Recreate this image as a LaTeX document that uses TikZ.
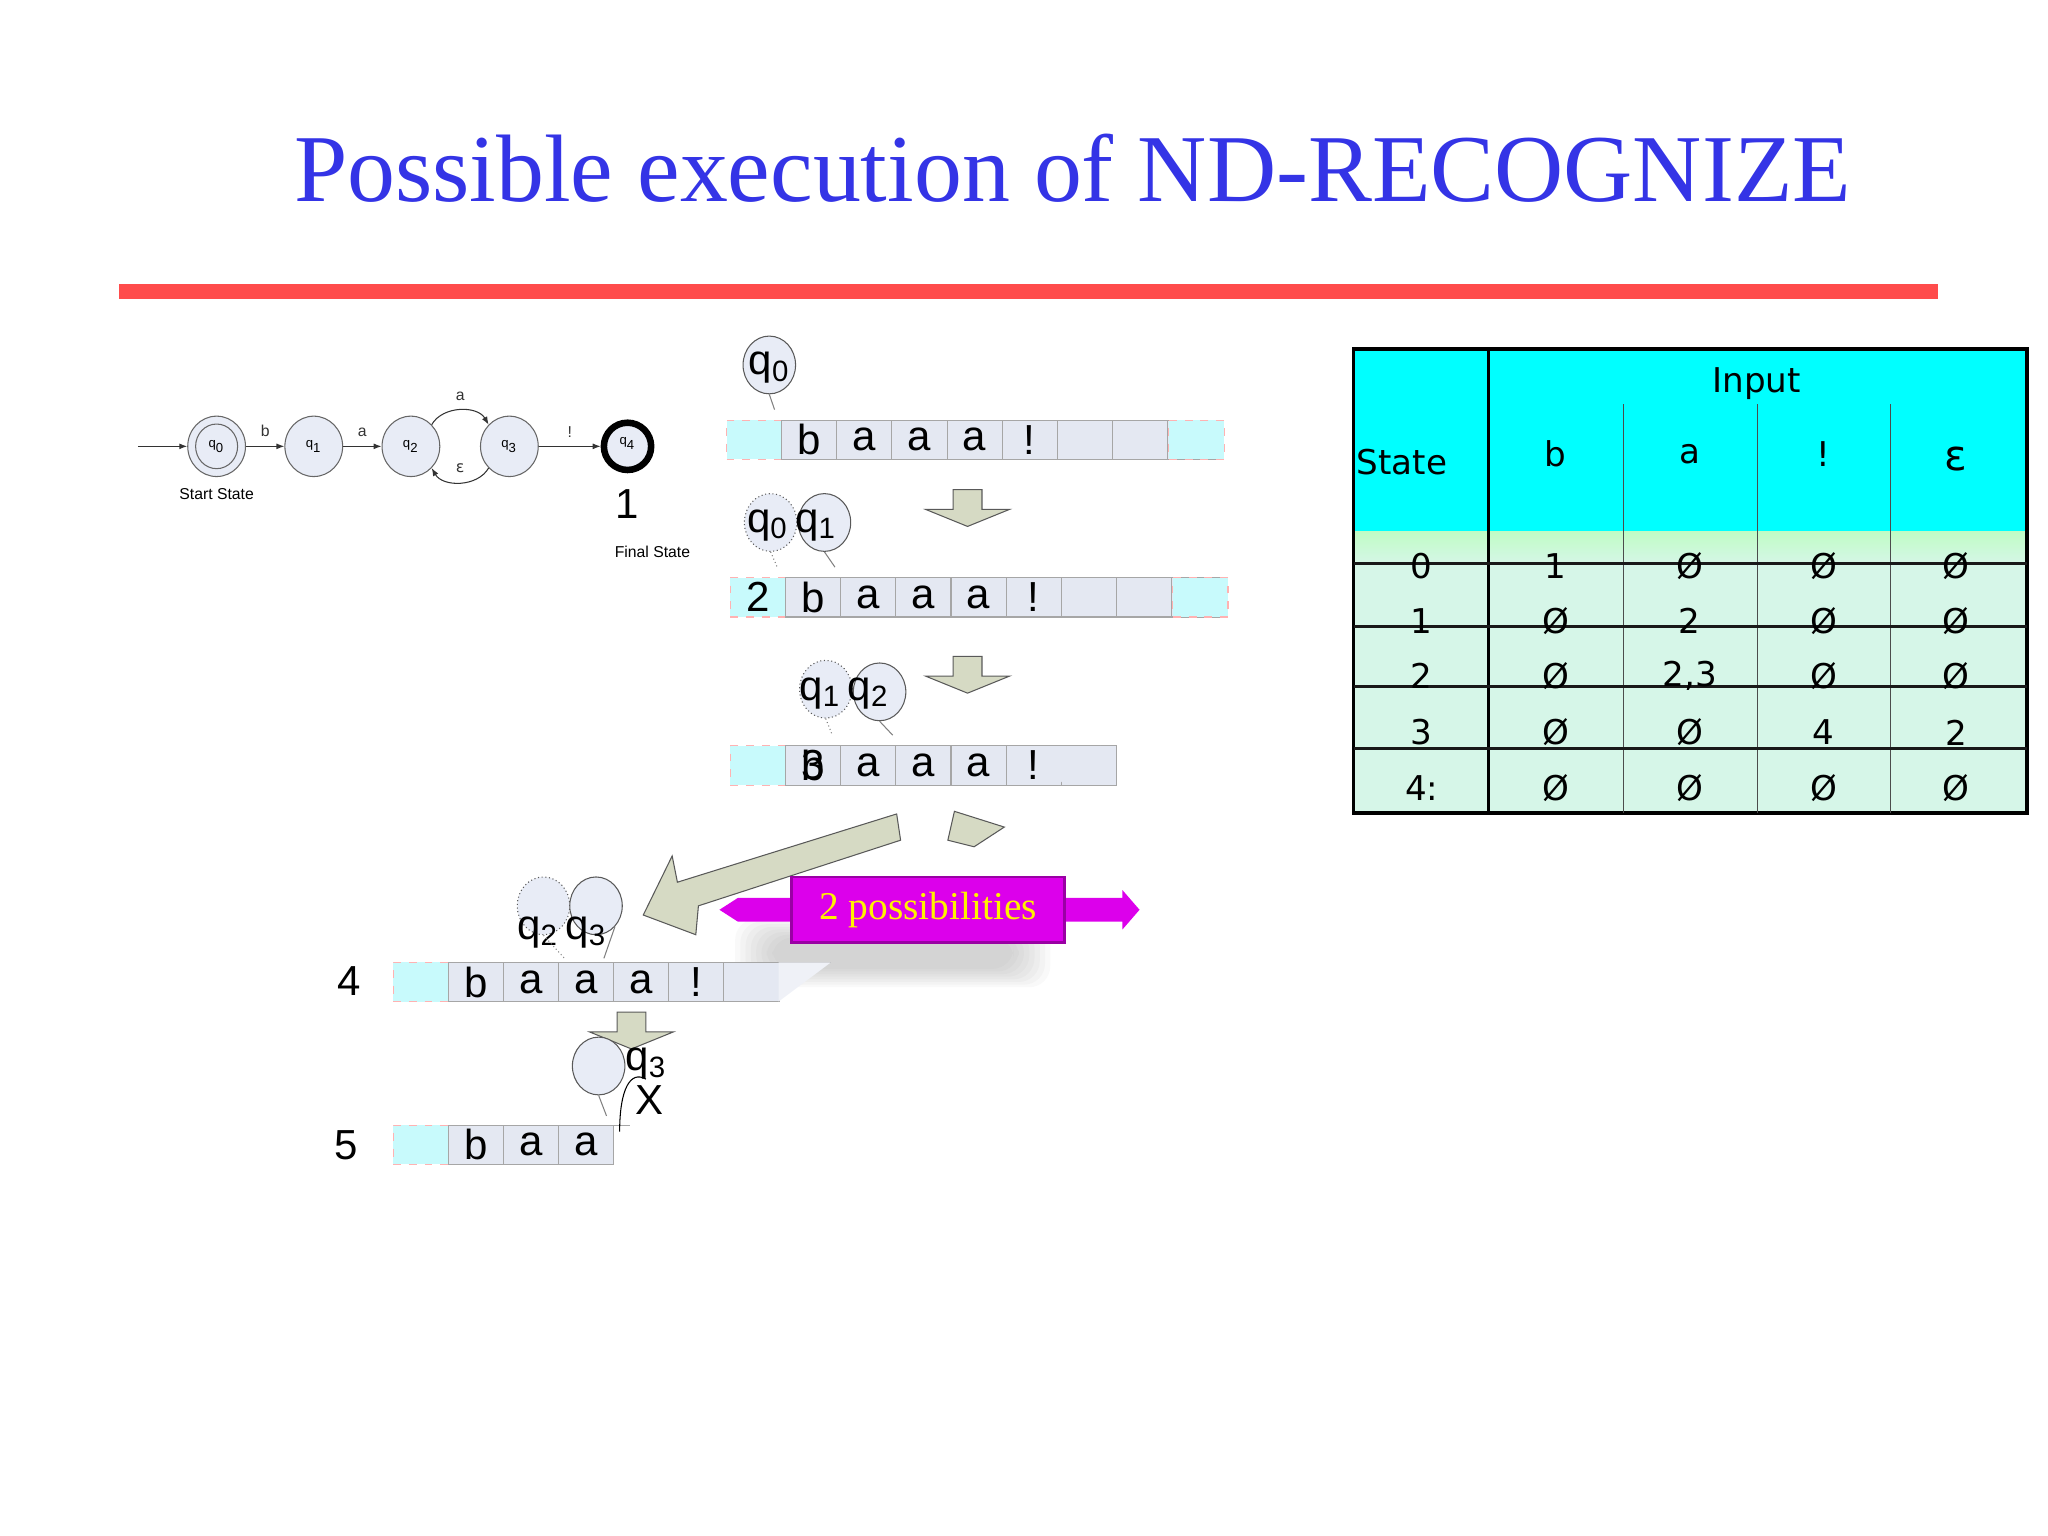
\documentclass[tikz,border=0pt]{standalone}
\usepackage{fontspec}
\setmainfont{Liberation Serif}
\newfontfamily\arial{Liberation Sans}
\newfontfamily\verd{DejaVu Sans}
\usetikzlibrary{arrows.meta,shapes.geometric}
\definecolor{bub}{RGB}{232,236,246}
\definecolor{cell}{RGB}{228,232,242}
\definecolor{cy}{RGB}{200,250,252}
\definecolor{tit}{RGB}{52,52,230}
\definecolor{arr}{RGB}{214,218,196}
\definecolor{mint}{RGB}{214,246,232}
\definecolor{mag}{RGB}{220,0,235}
\definecolor{aqua}{RGB}{0,255,255}
\tikzset{
 st/.style={draw=gray!80!black,fill=bub,ellipse,minimum width=22,minimum height=23,inner sep=0pt,font=\arial\fontsize{5}{6}\selectfont},
 bubble/.style={draw=gray!70!black,fill=bub,ellipse,minimum width=20,minimum height=22,inner sep=0pt},
 dbubble/.style={bubble,densely dotted},
 tcell/.style={draw=gray!70,fill=cell,minimum width=21,minimum height=15,inner sep=0pt,anchor=west,font=\arial\fontsize{16}{16}\selectfont},
 ccell/.style={draw=red!30,dashed,fill=cy,minimum width=21,minimum height=15,inner sep=0pt,anchor=west,font=\arial\fontsize{16}{16}\selectfont},
 lab/.style={font=\arial\fontsize{6}{7}\selectfont},
 big/.style={font=\arial\fontsize{16}{16}\selectfont},
 tx/.style={font=\verd\fontsize{13}{13}\selectfont},
 arrshape/.style={draw=gray!70!black,fill=arr}
}
\newcommand\tape[4]{% name, x, y, number of white cells
 \node[ccell] (#1c0) at (#2,#3) {};
 \foreach \i in {1,...,#4}{\node[tcell] (#1c\i) at ({#2+42*\i},#3) {};}
}
\newcommand\blockdown[2]{% x, top y
 \draw[arrshape] ({#1-11},#2) -- ({#1+11},#2) -- ({#1+11},{#2+15}) -- ({#1+32},{#2+15}) -- (#1,{#2+28}) -- ({#1-32},{#2+15}) -- ({#1-11},{#2+15}) -- cycle;
}
\begin{document}
\begin{tikzpicture}[x=0.5pt,y=-0.5pt]
\useasboundingbox (0,0) rectangle (1560,1170);
\node[text=tit,font=\fontsize{36.5}{36.5}\selectfont] (title) at (817,128) {Possible execution of ND-RECOGNIZE};
\fill[red!70!white] (91,216) rectangle (1476,228);
% FSA
\node[st] (q0) at (165,340) {};
\node[draw=gray!80!black,ellipse,minimum width=16,minimum height=17,inner sep=0pt,font=\arial\fontsize{5}{6}\selectfont] (q0i) at (165,340) {q\textsubscript{0}};
\node[st] (q1) at (239,340) {q\textsubscript{1}};
\node[st] (q2) at (313,340) {q\textsubscript{2}};
\node[st] (q3) at (388,340) {q\textsubscript{3}};
\node[draw=black,line width=2.5pt,fill=bub,circle,minimum size=18,inner sep=0pt,font=\arial\fontsize{5}{6}\selectfont] (q4) at (478,340) {\raisebox{4pt}{q\textsubscript{4}}};
\coordinate (in) at (105,340);
\draw[-{Latex[length=3pt]},gray!40!black] (in) -- (q0);
\draw[-{Latex[length=3pt]},gray!40!black] (q0) -- node[lab,above]{b} (q1);
\draw[-{Latex[length=3pt]},gray!40!black] (q1) -- node[lab,above]{a} (q2);
\draw[-{Latex[length=3pt]},gray!40!black] (q3) -- node[lab,above]{!} (q4);
\draw[-{Latex[length=3pt]},gray!40!black] (q2.north east) to[out=60,in=120] node[lab,above]{a} (q3.north west);
\draw[-{Latex[length=3pt]},gray!40!black] (q3.south west) to[out=240,in=300] node[font=\verd\fontsize{6}{7}\selectfont,above]{ε} (q2.south east);
\node[lab] (ss) at (165,376) {Start State};
\node[lab] (fs) at (497,420) {Final State};
\node[big] (one) at (478,384) {1};
% tape 1
\tape{a}{553}{335}{8}
\node[ccell] (ac9) at (890,335) {};
\foreach \i/\l in {1/b,2/a,3/a,4/a,5/!}{\node[big] (al\i) at (ac\i) {\l};}
\node[bubble] (b0) at (586,278) {};
\node[big] (t0) at (586,280) {q\textsubscript{0}};
\draw[gray] (b0.south) -- (590,312);
\blockdown{737}{373}
% tape 2
\tape{b}{556}{455}{8}
\node[ccell] (bc9) at (893,455) {};
\node[big] (bn) at (bc0) {2};
\foreach \i/\l in {1/b,2/a,3/a,4/a,5/!}{\node[big] (bl\i) at (bc\i) {\l};}
\node[dbubble] (b1) at (587,398) {};
\node[bubble] (b2) at (628,398) {};
\node[big] (t1) at (603,400) {q\textsubscript{0}\,q\textsubscript{1}};
\draw[gray,densely dotted] (b1.south) -- (592,432);
\draw[gray] (b2.south) -- (636,432);
\blockdown{737}{500}
% tape 3
\tape{c}{556}{583}{6}
\fill[cell] (806,568) -- (838,568) -- (806,598) -- cycle;
\draw[gray!70] (806,568) -- (838,568);
\foreach \i/\l in {1/b,2/a,3/a,4/a,5/!}{\node[big] (cl\i) at (cc\i) {\l};}
\node[big] (cn) at (cc1) {3};
\node[dbubble] (b3) at (629,525) {};
\node[bubble] (b4) at (670,527) {};
\node[big] (t3) at (643,528) {q\textsubscript{1}\,q\textsubscript{2}};
\draw[gray,densely dotted] (b3.south) -- (634,560);
\draw[gray] (b4.south) -- (680,560);
% shadow
\foreach \k in {0,...,7}{\fill[gray,opacity=.05,rounded corners=8] ({560+4*\k},{700+2*\k}) rectangle ({800-4*\k},{752-2*\k});}
% big arrow
\draw[arrshape] (683,620) -- (686,640) -- (532,690) -- (530,712) -- (490,697) -- (512,652) -- (516,672) -- cycle;
\draw[arrshape] (727,618) -- (765,630) -- (742,645) -- (722,640) -- cycle;
% 2 possibilities
\fill[mag] (548,693) -- (562,684) -- (855,684) -- (855,678) -- (868,693) -- (855,708) -- (855,702) -- (562,702) -- cycle;
\node[fill=mag,draw=mag!70!black,line width=1pt,minimum width=104,minimum height=25,text=yellow,font=\fontsize{15}{15}\selectfont] (poss) at (707,693) {2 possibilities};
% tape 4
\node[big] (n4) at (266,747) {4};
\tape{d}{299}{748}{6}
\draw[gray!70] (593,733) -- (633,733);
\fill[cell!60] (593,733) -- (633,733) -- (593,763) -- cycle;
\foreach \i/\l in {1/b,2/a,3/a,4/a,5/!}{\node[big] (dl\i) at (dc\i) {\l};}
\node[dbubble] (b5) at (414,690) {};
\node[bubble] (b6) at (454,690) {};
\node[big] (t5) at (428,710) {q\textsubscript{2}\,q\textsubscript{3}};
\blockdown{481}{771}
\draw[gray,densely dotted] (b5.south) -- (430,730);
\draw[gray] (b6.south east) -- (460,730);
% tape 5
\node[big] (n5) at (264,872) {5};
\tape{e}{299}{872}{3}
\draw[gray!70] (467,857) -- (480,857);
\foreach \i/\l in {1/b,2/a,3/a}{\node[big] (el\i) at (ec\i) {\l};}
\node[bubble] (b7) at (456,812) {};
\node[big] (t7) at (492,810) {q\textsubscript{3}};
\node[big] (xx) at (495,838) {X};
\draw[gray] (b7.south) -- (462,850);
\draw[black] (472,862) .. controls (472,830) and (480,815) .. (492,822);
% table
\fill[aqua] (1031,266) rectangle (1544,405);
\shade[top color=mint!60!green!50,bottom color=mint] (1031,405) rectangle (1544,430);
\fill[mint] (1031,430) rectangle (1544,619);
\draw[line width=1.5pt] (1031,266) rectangle (1544,619);
\draw[line width=1pt] (1134,266) -- (1134,619);
\foreach \x in {1237,1339,1440}{\draw[gray!60!black] (\x,308) -- (\x,619);}
\foreach \y in {429,477,523,570}{\draw[gray!20!black,line width=1pt] (1031,\y) -- (1544,\y);}
\node[tx] (inp) at (1338,292) {Input};
\node[tx,anchor=west,inner sep=0pt] (sth) at (1033,352) {State};
\node[tx] (hb) at (1185,346) {b};
\node[tx] (ha) at (1287,346) {a};
\node[tx] (he) at (1389,346) {!};
\node[font=\verd\fontsize{16}{16}\selectfont] (hp) at (1490,350) {ε};
\foreach \r/\y/\s/\vb/\va/\ve/\vp in {0/431/0/1/Ø/Ø/Ø,1/473/1/Ø/2/Ø/Ø,2/515/2/Ø/{2,3}/Ø/Ø,3/558/3/Ø/Ø/4/2,4/600/4:/Ø/Ø/Ø/Ø}{
 \node[tx] (r\r s) at (1083,\y) {\s};
 \node[tx] (r\r b) at (1185,\y) {\vb};
 \node[tx] (r\r a) at (1287,\y) {\va};
 \node[tx] (r\r e) at (1389,\y) {\ve};
 \node[tx] (r\r p) at (1490,\y) {\vp};
}
\end{tikzpicture}
\end{document}
